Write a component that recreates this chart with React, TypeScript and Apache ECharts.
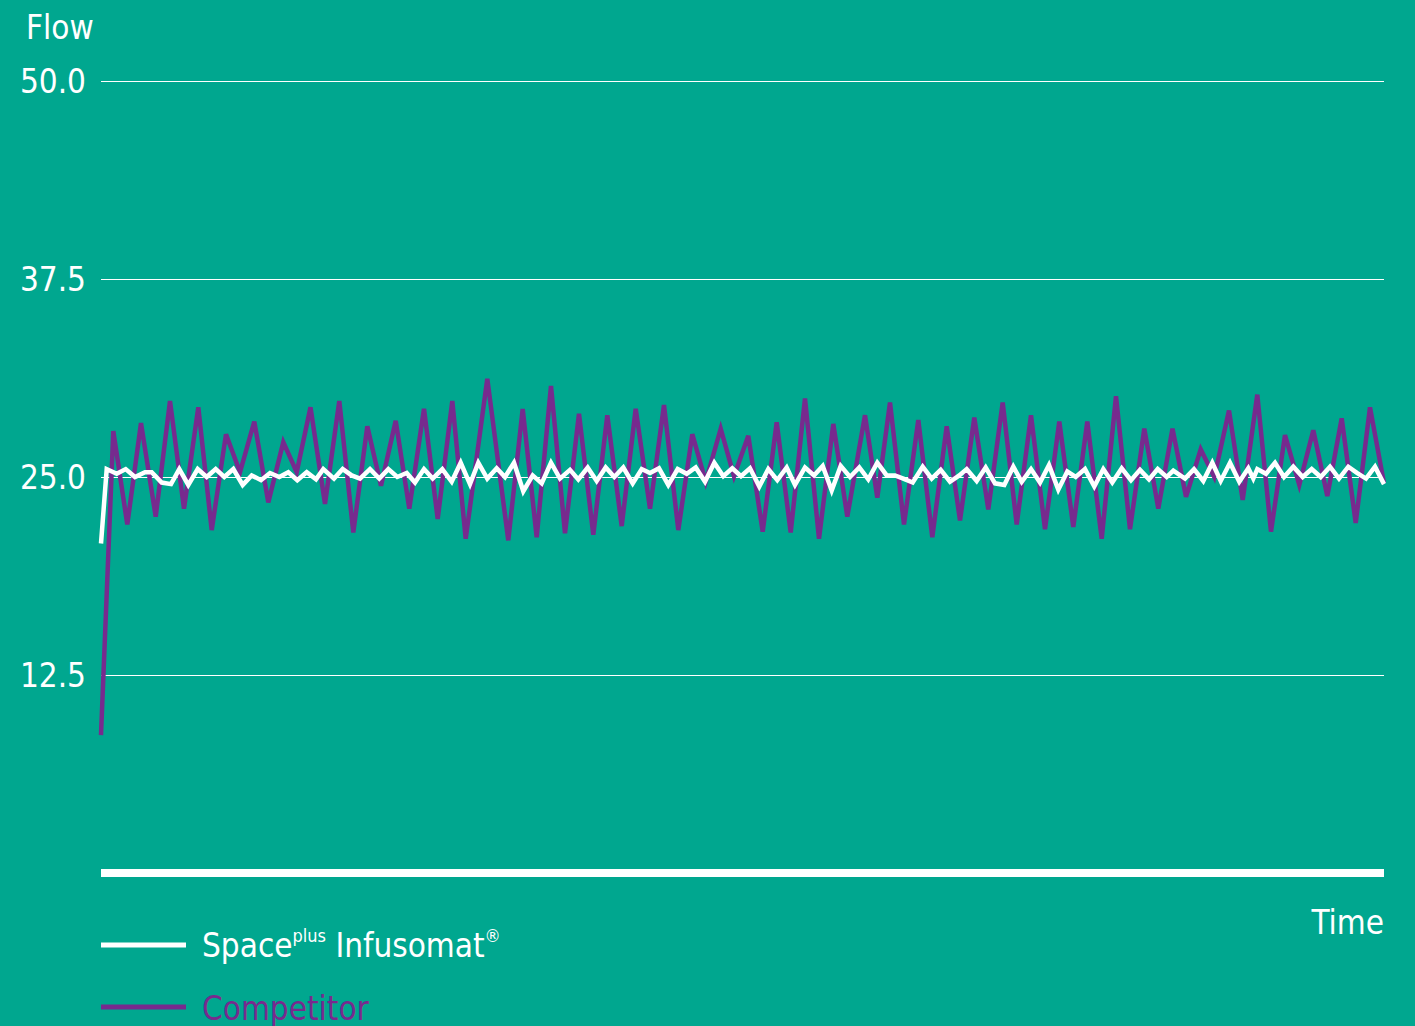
import { useEffect, useRef } from "react";
import * as echarts from "echarts";

// Time (arbitrary units along the axis) and flow values
const competitorTime = [
  0, 12.3, 26.3, 40, 54.7, 69, 83, 97.3, 110.7, 125, 139, 153.3, 167.3, 182.3, 195.7, 209.5,
  224, 238.3, 252.3, 266.3, 280, 294.7, 308.3, 323, 336.7, 351.3, 364.7, 386.3, 407.3, 421.7,
  435.7, 450, 464, 478, 492.3, 506.3, 520.7, 534.7, 549, 563, 577.3, 591.3, 604.7, 619.7, 633,
  647.3, 661.7, 675.7, 689.7, 704, 718, 732.3, 746.3, 764, 776.3, 789, 803, 817.3, 831.3, 845.7,
  859, 873.3, 887.3, 901.7, 915.7, 930, 944, 958.3, 972.3, 986.3, 1000.7, 1015, 1029, 1043.3,
  1057.3, 1071.5, 1085, 1099.7, 1113.3, 1128, 1141.7, 1156.3, 1170, 1184, 1198.3, 1212.3,
  1226.3, 1240.7, 1254.7, 1269, 1283,
];
const competitorFlow = [
  8.7, 27.9, 22.0, 28.4, 22.5, 29.8, 23.0, 29.4, 21.65, 27.7, 25.3, 28.5, 23.4, 27.2, 25.3, 29.4,
  23.3, 29.8, 21.5, 28.2, 24.45, 28.55, 23.0, 29.3, 22.35, 29.8, 21.1, 31.2, 21.0, 29.3,
  21.2, 30.75, 21.45, 29.0, 21.35, 28.9, 21.9, 29.3, 23.0, 29.55, 21.65, 27.7, 24.7, 28.05, 25.05,
  27.6, 21.55, 28.45, 21.5, 29.95, 21.1, 28.35, 22.5, 28.9, 23.7, 29.7, 22.0, 28.6, 21.2, 28.2,
  22.25, 28.75, 22.95, 29.7, 22.0, 28.9, 21.7, 28.5, 21.85, 28.5, 21.1, 30.1, 21.7, 28.05,
  23.0, 28.05, 23.75, 26.75, 25.0, 29.2, 23.55, 30.2, 21.55, 27.65, 24.5, 27.95,
  23.8, 28.7, 22.1, 29.4, 24.6,
];

const spaceTime = [
  0, 5.7, 15.7, 24.7, 34, 44, 50.7, 60.7, 70, 78.3, 87.3, 96.7, 105.7, 114.7, 123.3, 132.3,
  141.7, 150.7, 160, 169, 178.3, 187.3, 196.3, 205.7, 215, 222.3, 233, 241.7, 250.7, 259, 269,
  278.3, 287.3, 296.3, 305.7, 314, 323, 331.7, 341.3, 350.7, 359.7, 369, 377.3, 386.3, 395.7,
  404, 413, 422.3, 431.7, 440.7, 450, 459, 469, 477.3, 486.7, 495.7, 504.7, 513.3, 522.3, 531.7,
  540.7, 549, 558, 567.3, 576.7, 585.7, 594.7, 604, 613.3, 622.3, 631.3, 640, 649, 658.3, 667.3,
  676.3, 685.7, 694, 704, 713, 721.7, 730.7, 739.7, 749, 758.3, 767.3, 776.3, 785.7, 794, 802.3,
  811.7, 821.7, 830.7, 839.7, 849, 858.3, 865.7, 875.7, 884.7, 894, 903.3, 912.3, 920.7, 930,
  939, 948, 957.3, 966.3, 974.7, 984, 993.3, 1002.3, 1011.3, 1020.7, 1030, 1039, 1048, 1056.7,
  1065.7, 1072.3, 1084, 1093, 1102.3, 1111.3, 1119.7, 1129, 1138.3, 1147.3, 1152.3, 1156.3, 1165,
  1174, 1183, 1192.3, 1201.7, 1210.7, 1219.7, 1229, 1238, 1247.3, 1256.3, 1265, 1274, 1283,
];
const spaceFlow = [
  20.8, 25.5, 25.2, 25.5, 25.0, 25.3, 25.3, 24.65, 24.55, 25.5, 24.5, 25.5, 25.0, 25.5, 25.0, 25.5,
  24.5, 25.1, 24.8, 25.25, 25.0, 25.3, 24.8, 25.3, 24.85, 25.5, 24.9, 25.5, 25.1, 24.9, 25.5,
  24.9, 25.5, 25.0, 25.25, 24.65, 25.5, 24.9, 25.5, 24.7, 25.9, 24.55, 25.9, 24.9, 25.55,
  25.0, 25.9, 24.1, 25.1, 24.6, 25.9, 24.9, 25.45, 24.85, 25.6, 24.75, 25.6, 25.0, 25.6, 24.6,
  25.5, 25.25, 25.55, 24.5, 25.5, 25.2, 25.6, 24.7, 25.9, 25.05, 25.55, 25.05, 25.55, 24.4, 25.5,
  24.8, 25.6, 24.5, 25.6, 25.1, 25.7, 24.15, 25.7, 25.0, 25.6, 24.85, 25.9, 25.1, 25.1, 24.9,
  24.65, 25.65, 24.9, 25.45, 24.7, 25.1, 25.5, 24.75, 25.6, 24.6, 24.5, 25.65, 24.7, 25.5,
  24.65, 25.75, 24.2, 25.35, 25.0, 25.5, 24.4, 25.5, 24.65, 25.55, 24.8, 25.45, 24.85, 25.5,
  25.0, 25.4, 24.9, 25.5, 24.75, 25.9, 24.75, 25.9, 24.7, 25.55, 24.9, 25.5, 25.2,
  25.9, 25.0, 25.65, 25.0, 25.5, 25.0, 25.65, 24.9, 25.65, 25.25, 24.9, 25.65, 24.55,
];

const yMin = 0;
const yMax = 50;
const yStep = 12.5;
const timeMax = 1283;

const seriesNames = ["Competitor", "Space plus Infusomat"];

const BG = "#00a78f";
const PURPLE = "#772a8e";
const WHITE = "#ffffff";
const FONT = "'Liberation Sans Narrow', 'DejaVu Sans Condensed', 'Open Sans', sans-serif";
const FS = 33;

export default function App() {
  const ref = useRef<HTMLDivElement>(null);

  useEffect(() => {
    document.body.style.margin = "0";
    document.body.style.overflow = "hidden";
    document.body.style.background = BG;
    const chart = echarts.init(ref.current!, null, { renderer: "svg" });
    chart.setOption({
      animation: false,
      backgroundColor: BG,
      grid: { left: 101, right: 31, top: 81, bottom: 153, containLabel: false },
      xAxis: {
        type: "value",
        min: 0,
        max: timeMax,
        axisLabel: { show: false },
        axisTick: { show: false },
        splitLine: { show: false },
        axisLine: { show: true, lineStyle: { color: WHITE, width: 8, cap: "butt" } },
      },
      yAxis: {
        type: "value",
        min: yMin,
        max: yMax,
        interval: yStep,
        axisLine: { show: false },
        axisTick: { show: false },
        axisLabel: {
          color: WHITE,
          fontSize: FS,
          fontFamily: FONT,
          margin: 15,
          formatter: (v: number) => (v === 0 ? "" : v.toFixed(1)),
        },
        splitLine: { lineStyle: { color: WHITE, width: 1 } },
      },
      series: [
        {
          name: seriesNames[0],
          type: "line",
          showSymbol: false,
          symbol: "none",
          data: competitorTime.map((t, i) => [t, competitorFlow[i]]),
          lineStyle: { color: PURPLE, width: 4.5, join: "miter", miterLimit: 4 },
          z: 2,
        },
        {
          name: seriesNames[1],
          type: "line",
          showSymbol: false,
          symbol: "none",
          data: spaceTime.map((t, i) => [t, spaceFlow[i]]),
          lineStyle: { color: WHITE, width: 4.5, join: "miter", miterLimit: 4 },
          z: 3,
        },
      ],
      graphic: [
        {
          type: "text",
          left: 26,
          top: 11,
          style: { text: "Flow", fill: WHITE, font: `${FS}px ${FONT}` },
        },
        {
          type: "text",
          right: 31,
          top: 906,
          style: { text: "Time", fill: WHITE, font: `${FS}px ${FONT}` },
        },
        {
          type: "line",
          shape: { x1: 101, y1: 945, x2: 186, y2: 945 },
          style: { stroke: WHITE, lineWidth: 5 },
        },
        {
          type: "line",
          shape: { x1: 101, y1: 1007, x2: 186, y2: 1007 },
          style: { stroke: PURPLE, lineWidth: 5 },
        },
        {
          type: "text",
          x: 202,
          y: 945,
          style: {
            text: "{a|Space}{s|plus}{a| Infusomat}{s|®}",
            verticalAlign: "middle",
            fill: WHITE,
            rich: {
              a: { fontSize: FS, fontFamily: FONT, fill: WHITE, lineHeight: 38 },
              s: { fontSize: 18, fontFamily: FONT, fill: WHITE, lineHeight: 24, verticalAlign: "top" },
            },
          },
        },
        {
          type: "text",
          x: 202,
          y: 1008,
          style: {
            text: "Competitor",
            verticalAlign: "middle",
            fill: PURPLE,
            font: `${FS}px ${FONT}`,
          },
        },
      ],
    });
    return () => chart.dispose();
  }, []);

  return <div ref={ref} style={{ width: 1415, height: 1026, background: BG }} />;
}
